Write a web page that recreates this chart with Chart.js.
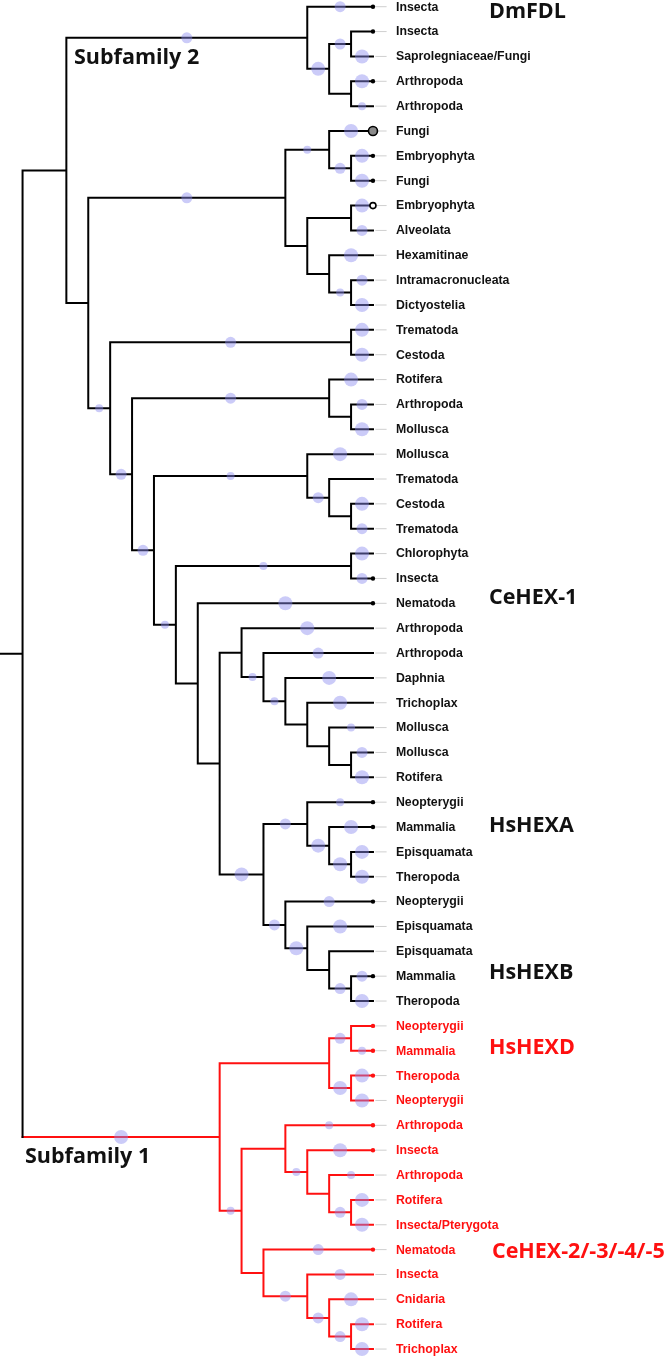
<!DOCTYPE html>
<html>
<head>
<meta charset="utf-8">
<script src="https://cdn.jsdelivr.net/npm/chart.js@4.4.1/dist/chart.umd.min.js"></script>
<style>
html, body { margin: 0; padding: 0; background: #fff; }
#wrap { position: relative; width: 666px; height: 1357px; }
</style>
</head>
<body>
<div id="wrap"><canvas id="tree"></canvas></div>
<script>
// leaves, top to bottom (row index = y value)
var leafNames = [
	'Insecta', 'Insecta', 'Saprolegniaceae/Fungi', 'Arthropoda', 'Arthropoda',
	'Fungi', 'Embryophyta', 'Fungi', 'Embryophyta', 'Alveolata',
	'Hexamitinae', 'Intramacronucleata', 'Dictyostelia', 'Trematoda', 'Cestoda',
	'Rotifera', 'Arthropoda', 'Mollusca', 'Mollusca', 'Trematoda',
	'Cestoda', 'Trematoda', 'Chlorophyta', 'Insecta', 'Nematoda',
	'Arthropoda', 'Arthropoda', 'Daphnia', 'Trichoplax', 'Mollusca',
	'Mollusca', 'Rotifera', 'Neopterygii', 'Mammalia', 'Episquamata',
	'Theropoda', 'Neopterygii', 'Episquamata', 'Episquamata', 'Mammalia',
	'Theropoda', 'Neopterygii', 'Mammalia', 'Theropoda', 'Neopterygii',
	'Arthropoda', 'Insecta', 'Arthropoda', 'Rotifera', 'Insecta/Pterygota',
	'Nematoda', 'Insecta', 'Cnidaria', 'Rotifera', 'Trichoplax'
];
// leaves of subfamily 1 (drawn red)
var subfamily1Leaves = [41, 42, 43, 44, 45, 46, 47, 48, 49, 50, 51, 52, 53, 54];
// marker at the tip: 0 none, 1 dot, 2 grey disc, 3 ring
var tipMarks = [
	1, 1, 0, 1, 0, 2, 1, 1, 3, 0,
	0, 0, 0, 0, 0, 0, 0, 0, 0, 0,
	0, 0, 0, 1, 1, 0, 0, 0, 0, 0,
	0, 0, 1, 1, 0, 0, 1, 0, 0, 1,
	0, 1, 1, 1, 0, 1, 1, 0, 0, 0,
	1, 0, 0, 0, 0
];
// support classes for the circles on branches
var supportRadius = [0, 4, 5.5, 7];

// topology: leaf "row:support", node "(...)column:support"
var dmFDL = '(0:2,((1:0,2:3)1:2,(3:3,4:1)1:0)2:3)3:2';
var fungiPlants = '((5:3,(6:3,7:3)1:2)2:1,((8:3,9:2)1:0,(10:3,(11:2,12:3)1:1)2:0)3:0)4:2';
var trematodaCestoda = '(13:3,14:3)1:2';
var rotiferaGroup = '(15:3,(16:2,17:3)1:0)2:2';
var molluscaGroup = '(18:3,(19:0,(20:3,21:2)1:0)2:2)3:1';
var chlorophytaGroup = '(22:3,23:2)1:1';
var ceHEX1 = '(25:3,(26:2,(27:3,(28:3,(29:1,(30:2,31:3)1:0)2:0)3:0)4:1)5:1)6:0';
var hsHEXA = '(32:1,(33:3,(34:3,35:3)1:3)2:3)3:2';
var hsHEXB = '(36:2,(37:3,(38:0,(39:2,40:3)1:2)2:0)3:3)4:2';
var hsHEXD = '((41:0,42:1)1:2,(43:3,44:3)1:3)2:0';
var ceHEX2a = '(45:1,(46:3,(47:1,(48:3,49:3)1:2)2:0)3:1)4:0';
var ceHEX2b = '(50:2,(51:2,(52:3,(53:3,54:3)1:2)2:2)3:2)5:0';

var subfamily2 = '(' + dmFDL + ',(' + fungiPlants + ',(' + trematodaCestoda + ',(' + rotiferaGroup +
	',(' + molluscaGroup + ',(' + chlorophytaGroup + ',(24:3,(' + ceHEX1 + ',(' + hsHEXA + ',' + hsHEXB +
	')5:3)7:0)8:0)9:1)10:2)11:2)12:1)13:0)14:0';
var subfamily1 = '(' + hsHEXD + ',(' + ceHEX2a + ',' + ceHEX2b + ')6:1)7:3';
var treeString = '(' + subfamily2 + ',' + subfamily1 + ')16';

var cladeLabels = ['DmFDL', 'CeHEX-1', 'HsHEXA', 'HsHEXB', 'HsHEXD', 'CeHEX-2/-3/-4/-5', 'Subfamily 2', 'Subfamily 1'];

// ---- parse
function parseTree(s) {
	var i = 0;
	function num() {
		var j = i;
		while (i < s.length && /[0-9.]/.test(s[i])) i++;
		return parseFloat(s.slice(j, i));
	}
	function node() {
		var n = {};
		if (s[i] === '(') {
			i++;
			n.children = [];
			while (true) {
				n.children.push(node());
				if (s[i] === ',') { i++; continue; }
				i++;
				break;
			}
			n.h = num();
		} else {
			n.leaf = num();
			n.h = 0;
		}
		n.s = 0;
		if (s[i] === ':') { i++; n.s = num(); }
		return n;
	}
	return node();
}

var RED = '#ff1010', BLACK = '#000000';
var root = parseTree(treeString);

function place(n) {
	if (n.children) {
		n.children.forEach(place);
		n.y = (n.children[0].y + n.children[n.children.length - 1].y) / 2;
		n.red = n.children.every(function(c) { return c.red; });
	} else {
		n.y = n.leaf;
		n.red = subfamily1Leaves.indexOf(n.leaf) >= 0;
	}
}
place(root);

var blackLines = [], redLines = [], circles = [], radii = [];
function seg(list, x1, y1, x2, y2) {
	list.push({x: x1, y: y1}, {x: x2, y: y2}, {x: null, y: null});
}
function walk(n) {
	if (!n.children) return;
	var first = n.children[0], last = n.children[n.children.length - 1];
	seg(n.red ? redLines : blackLines, n.h, first.y, n.h, last.y);
	n.children.forEach(function(c) {
		seg(c.red ? redLines : blackLines, n.h, c.y, c.h, c.y);
		if (c.s > 0) {
			circles.push({x: (n.h + c.h) / 2, y: c.y});
			radii.push(supportRadius[c.s]);
		}
		walk(c);
	});
}
walk(root);
seg(blackLines, root.h + 1.05, root.y, root.h, root.y);

var greyTicks = [];
leafNames.forEach(function(name, i) { seg(greyTicks, -0.12, i, -0.6, i); });

function tipData(kind) {
	var out = [];
	tipMarks.forEach(function(m, i) { if (m === kind) out.push({x: 0, y: i}); });
	return out;
}
var dotColors = [];
tipMarks.forEach(function(m, i) { if (m === 1) dotColors.push(subfamily1Leaves.indexOf(i) >= 0 ? RED : BLACK); });

// label text drawing
var labelPlugin = {
	id: 'labels',
	afterDatasetsDraw: function(chart) {
		var ctx = chart.ctx, xs = chart.scales.x, ys = chart.scales.y;
		var tipX = xs.getPixelForValue(0);
		ctx.save();
		ctx.textBaseline = 'middle';
		ctx.textAlign = 'left';
		ctx.font = 'bold 12.3px "Liberation Sans", Arial, sans-serif';
		leafNames.forEach(function(name, i) {
			ctx.fillStyle = subfamily1Leaves.indexOf(i) >= 0 ? RED : '#111';
			ctx.fillText(name, tipX + 23, ys.getPixelForValue(i) + 0.5);
		});
		var spots = [
			[tipX + 116, 0.22, BLACK], [tipX + 116, 23.8, BLACK], [tipX + 116, 32.95, BLACK],
			[tipX + 116, 38.85, BLACK], [tipX + 116, 41.9, RED], [tipX + 119, 50.1, RED],
			[74, 2.05, BLACK], [25, 46.25, BLACK]
		];
		ctx.font = 'bold 21.5px "Open Sans", "Noto Sans", sans-serif';
		cladeLabels.forEach(function(t, k) {
			ctx.fillStyle = spots[k][2] === RED ? RED : '#111';
			ctx.fillText(t, spots[k][0], ys.getPixelForValue(spots[k][1]));
		});
		ctx.restore();
	}
};

function lineSet(data, color, width, order) {
	return {
		data: data, showLine: true, borderColor: color, borderWidth: width,
		borderCapStyle: 'square', borderJoinStyle: 'miter',
		pointRadius: 0, spanGaps: false, order: order
	};
}

new Chart(document.getElementById('tree'), {
	type: 'scatter',
	data: {
		datasets: [
			{
				data: circles, order: 0,
				pointRadius: function(c) { return radii[c.dataIndex]; },
				pointBackgroundColor: 'rgba(140,140,240,0.45)', pointBorderWidth: 0
			},
			{ data: tipData(1), order: 1, pointRadius: 2.2, pointBackgroundColor: dotColors, pointBorderWidth: 0 },
			{ data: tipData(2), order: 1, pointRadius: 4.5, pointBackgroundColor: '#8a8a8a', pointBorderColor: '#000', pointBorderWidth: 1.6 },
			{ data: tipData(3), order: 1, pointRadius: 3, pointBackgroundColor: '#fff', pointBorderColor: '#000', pointBorderWidth: 1.6 },
			lineSet(blackLines, BLACK, 2, 2),
			lineSet(redLines, RED, 2, 2),
			lineSet(greyTicks, '#cfcfcf', 1, 3)
		]
	},
	options: {
		responsive: true,
		maintainAspectRatio: false,
		animation: false,
		events: [],
		layout: { padding: 0, autoPadding: false },
		plugins: { legend: { display: false }, tooltip: { enabled: false } },
		scales: {
			x: { type: 'linear', display: false, reverse: true, min: -13.38, max: 17.03 },
			y: { type: 'linear', display: false, reverse: true, min: -0.27, max: 54.32 }
		}
	},
	plugins: [labelPlugin]
});
</script>
</body>
</html>
